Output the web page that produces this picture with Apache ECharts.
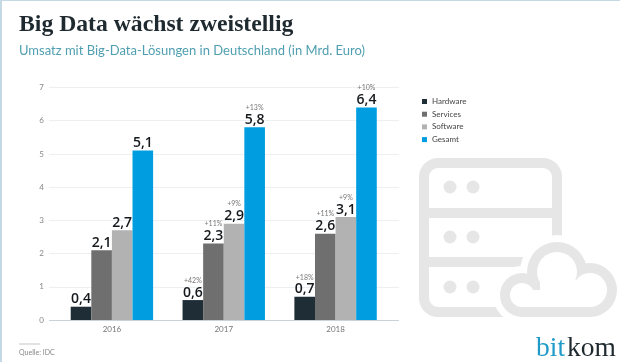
<!DOCTYPE html>
<html><head><meta charset="utf-8">
<style>html,body{margin:0;padding:0;background:#fff}#c{width:620px;height:362px}</style>
<script src="https://cdn.jsdelivr.net/npm/echarts@6/dist/echarts.min.js"></script>
</head><body><div id="c"></div>
<script>
const years = ['2016','2017','2018'];
const yTicks = [0,1,2,3,4,5,6,7];
const hardware = [0.4,0.6,0.7];
const services = [2.1,2.3,2.6];
const software = [2.7,2.9,3.1];
const gesamt = [5.1,5.8,6.4];
const hardwarePct = ['','+42%','+18%'];
const servicesPct = ['','+11%','+11%'];
const softwarePct = ['','+9%','+9%'];
const gesamtPct = ['','+13%','+10%'];
const names = ['Hardware','Services','Software','Gesamt'];
const colors = ['#1f2d36','#6f6f6f','#b2b2b2','#009ee0'];
const sans = 'Lato,"Open Sans",sans-serif';
const iconGrey = '#e6e6e6';

function bar(i, vals, pcts){
  return {
    name:names[i], type:'bar', xAxisIndex:1, yAxisIndex:1, data:vals, barWidth:20.6, barGap:0,
    itemStyle:{color:colors[i]},
    label:{show:true, position:'top', distance:0,
      formatter:p=>{
        const v='{v|'+String(p.value).replace('.',',')+'}';
        return pcts[p.dataIndex] ? '{p|'+pcts[p.dataIndex]+'}\n'+v : v;
      },
      rich:{
        v:{fontFamily:'"Open Sans",sans-serif',fontSize:14,fontWeight:600,color:'#15191c',lineHeight:15},
        p:{fontFamily:sans,fontSize:7,color:'#777',lineHeight:9}
      }
    }
  };
}
function cloudLayer(fill, grow, rectTop, rectBottom){
  const lobes = [[522,295,22],[557,272,30],[590,290,27]];
  return [
    ...lobes.map(l=>({type:'circle',shape:{cx:l[0],cy:l[1],r:l[2]+grow},style:{fill}})),
    {type:'rect',shape:{x:522,y:rectTop,width:68,height:rectBottom-rectTop},style:{fill}}
  ];
}
const chart = echarts.init(document.getElementById('c'),null,{renderer:'canvas'});
chart.setOption({
  animation:false, backgroundColor:'#fff',
  title:[
    {text:'Big Data wächst zweistellig',left:19,top:13,padding:0,textStyle:{fontFamily:'"Liberation Serif",serif',fontSize:23.7,fontWeight:'bold',color:'#1f2a30'}},
    {text:'Umsatz mit Big-Data-Lösungen in Deutschland (in Mrd. Euro)',left:19,top:44,padding:0,textStyle:{fontFamily:sans,fontSize:13,fontWeight:'normal',color:'#4f9fb0'}},
    {text:'Quelle: IDC',left:19,top:349,padding:0,textStyle:{fontFamily:sans,fontSize:7,fontWeight:'normal',color:'#888'}}
  ],
  legend:{data:names,orient:'vertical',left:422,top:97.5,itemWidth:5,itemHeight:5,itemGap:4.7,icon:'rect',padding:0,
    textStyle:{fontFamily:sans,fontSize:8,color:'#444',padding:[0,0,0,0]}},
  grid:[
    {left:49,right:221,top:87.5,height:232.5},
    {left:56,width:335.5,top:87.5,height:232.5}
  ],
  xAxis:[
    {gridIndex:0,type:'category',data:years,show:false},
    {gridIndex:1,type:'category',data:years,axisTick:{show:false},axisLine:{show:false},
     axisLabel:{fontFamily:sans,fontSize:8,color:'#777',margin:5}}
  ],
  yAxis:[
    {gridIndex:0,type:'value',min:0,max:7,interval:1,
     axisLabel:{fontFamily:sans,fontSize:8,color:'#888',margin:5,formatter:v=>yTicks.includes(v)?String(v):''},
     axisLine:{show:false},axisTick:{show:false},splitLine:{lineStyle:{color:'#ecf0f2',width:1}}},
    {gridIndex:1,type:'value',min:0,max:7,interval:1,show:false}
  ],
  series:[
    {type:'line',xAxisIndex:0,yAxisIndex:0,data:[],silent:true,
     markLine:{silent:true,symbol:'none',label:{show:false},lineStyle:{color:'#c9d3d8',width:1,type:'solid'},data:[{yAxis:0}]}},
    bar(0,hardware,hardwarePct),
    bar(1,services,servicesPct),
    bar(2,software,softwarePct),
    bar(3,gesamt,gesamtPct)
  ],
  graphic:[
    {type:'rect',shape:{x:0,y:0,width:620,height:1},style:{fill:'#c4d9e3'}},
    {type:'rect',shape:{x:0,y:0,width:2,height:362},style:{fill:'#c4d9e3'}},
    {type:'rect',shape:{x:19,y:343.5,width:21,height:1},style:{fill:'#c4c4c4'}},
    {type:'rect',shape:{x:424,y:163,width:133,height:149,r:14},style:{fill:'none',stroke:iconGrey,lineWidth:10}},
    {type:'rect',shape:{x:424,y:208,width:133,height:10},style:{fill:iconGrey}},
    {type:'rect',shape:{x:424,y:257,width:133,height:10},style:{fill:iconGrey}},
    ...[187,237,287].flatMap(cy=>[450,473].map(cx=>({type:'circle',shape:{cx,cy,r:6.5},style:{fill:iconGrey}}))),
    ...cloudLayer('#fff',7,290,324),
    ...cloudLayer(iconGrey,0,290,317),
    ...cloudLayer('#fff',-10,290,307),
    {type:'rect',shape:{x:540,y:280,width:42,height:27},style:{fill:'#fff'}},
    {type:'text',left:536,top:335,style:{text:'bit',fontFamily:'"Liberation Serif",serif',fontSize:27.5,fill:'#1f9ac9'}},
    {type:'text',left:567,top:335,style:{text:'kom',fontFamily:'"Liberation Serif",serif',fontSize:27.5,fill:'#1f2a30'}}
  ]
});
</script></body></html>
